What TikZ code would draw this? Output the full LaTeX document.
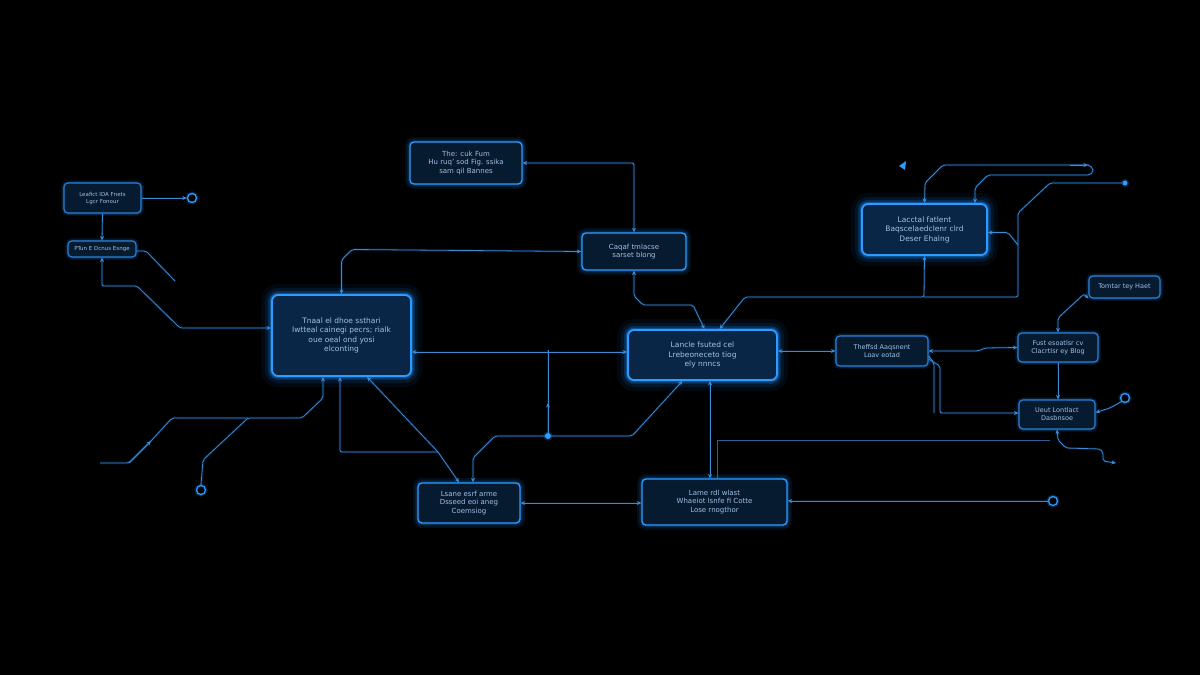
\documentclass[tikz,border=0pt]{standalone}
\usepackage{fontspec}
\setmainfont{DejaVu Sans}
\usetikzlibrary{arrows.meta}
\definecolor{edge}{HTML}{2E9BFF}
\definecolor{edgedim}{HTML}{2A80D4}
\definecolor{boxfill}{HTML}{061A30}
\definecolor{boxfillb}{HTML}{0A2646}
\definecolor{txt}{HTML}{9FC3E6}
\definecolor{wirec}{HTML}{3A8AD4}
\definecolor{glowc}{HTML}{1A8CFF}
\tikzset{
  box/.style={draw=edgedim, line width=1.1pt, fill=boxfill, rounded corners=4pt, text=txt,
    align=center, inner sep=0pt, font=\fontsize{6.5}{8}\selectfont,
    preaction={draw=glowc, line width=6pt, opacity=0.10},
    preaction={draw=glowc, line width=3pt, opacity=0.25}},
  tinybox/.style={box, font=\fontsize{5.5}{7}\selectfont},
  midbox/.style={box, draw=edge, line width=1.3pt, font=\fontsize{7}{8.5}\selectfont,
    preaction={draw=glowc, line width=10pt, opacity=0.10}},
  bigbox/.style={draw=edge, line width=1.8pt, fill=boxfillb, rounded corners=6pt, text=txt,
    align=center, inner sep=0pt, font=\fontsize{7.5}{9.5}\selectfont,
    preaction={draw=glowc, line width=22pt, opacity=0.06},
    preaction={draw=glowc, line width=14pt, opacity=0.10},
    preaction={draw=glowc, line width=8pt, opacity=0.20},
    preaction={draw=glowc, line width=4.5pt, opacity=0.38}},
  wire/.style={draw=wirec, line width=0.8pt, rounded corners=2pt,
    preaction={draw=glowc, line width=2.6pt, opacity=0.15},
    >={Stealth[length=4.5pt,width=4pt]}},
  faint/.style={draw=wirec!70!black, line width=0.7pt},
  ring/.style={circle, draw=edge, line width=1.3pt, minimum size=9pt, inner sep=0pt, fill=black,
    preaction={draw=glowc, line width=4pt, opacity=0.25}},
  bead/.style={circle, fill=edge, minimum size=6pt, inner sep=0pt,
    preaction={draw=glowc, line width=3pt, opacity=0.25}},
}
\begin{document}
\begin{tikzpicture}[x=1pt,y=-1pt]
\fill[black] (0,0) rectangle (1200,675);
\useasboundingbox (0,0) rectangle (1200,675);

% nodes
\node[tinybox, minimum width=77pt, minimum height=30pt] (A) at (102.5,198) {Leafict IDA Fnets\\Lgcr Fonour};
\node[tinybox, minimum width=68pt, minimum height=16pt] (B) at (102,249) {PTun E Dcnus Esnge};
\node[midbox, minimum width=112pt, minimum height=42pt] (C) at (466,163) {The: cuk Fum\\Hu ruq' sod Fig. ssika\\sam qil Bannes};
\node[midbox, minimum width=104pt, minimum height=37pt] (D) at (634,251.5) {Caqaf tmlacse\\sarset blong};
\node[bigbox, minimum width=139pt, minimum height=81pt] (E) at (341.5,335.5) {Tnaal el dhoe ssthari\\Iwtteal cainegi pecrs; rialk\\oue oeal ond yosi\\elconting};
\node[bigbox, minimum width=149pt, minimum height=50pt] (F) at (702.5,355) {Lancle fsuted cel\\Lrebeoneceto tiog\\ely nnncs};
\node[bigbox, minimum width=125pt, minimum height=51pt] (G) at (924.5,229.5) {Lacctal fatlent\\Baqscelaedclenr clrd\\Deser Ehalng};
\node[box, minimum width=92pt, minimum height=30pt] (H) at (882,351) {Theffsd Aaqsnent\\Loav eotad};
\node[box, minimum width=71pt, minimum height=22pt] (I) at (1124.5,287) {Tomtar tey Haet};
\node[box, minimum width=80pt, minimum height=29pt] (J) at (1058,347.5) {Fust esoatlsr cv\\Clacrtlsr ey Blog};
\node[box, minimum width=76pt, minimum height=29pt] (K) at (1057,414.5) {Ueut Lontlact\\Dasbnsoe};
\node[midbox, minimum width=102pt, minimum height=40pt] (L) at (469,503) {Lsane esrf arme\\Dsseed eoi aneg\\Coemsiog};
\node[midbox, minimum width=145pt, minimum height=46pt] (M) at (714.5,502) {Lame rdl wlast\\Whaeiot lsnfe fi Cotte\\Lose rnogthor};

% terminals
\node[ring] (c1) at (192,198) {};
\node[ring] (c2) at (201,490) {};
\node[ring] (c4) at (1125,398) {};
\node[ring] (c5) at (1053,501) {};
\node[bead, minimum size=5pt] (c3) at (1125,183) {};
\node[bead] (dot) at (548,436) {};

\coordinate (fb) at (175,281);
\coordinate (fl) at (100,463);
\coordinate (j1) at (548,350);
\coordinate (fh) at (934,413);
\coordinate (fk) at (1116,463);
\coordinate (fr) at (1050,440);
\coordinate (jg) at (924,297);
\coordinate (jv) at (1018,245);

% connectors, left
\draw[wire,->] (A.east) -- (c1.west);
\draw[wire,->] (A.south) -- (B.north);
\draw[wire,<->] (B.south) -- (102,286) -- (137,286) -- (180,328) -- ([yshift=7.5pt]E.west);
\draw[wire] ([yshift=-2pt]B.east) -- (146,251) -- (fb);
\draw[wire,<->] (C.east) -- (C.east -| D.north) -- (D.north);
\draw[wire,<->] (D.west) -- (352,249.5) -- (341.5,260) -- (E.north);
\draw[wire,<->] (E.east |- 0,352) -- ([yshift=3pt]F.west);
\draw[wire] (j1) -- (dot.north);
\draw[wire,->] (dot.north) -- (548,403);
\draw[wire,->] (dot.east) -- (632,436) -- ([xshift=-20pt]F.south);
\draw[wire,->] (dot.west) -- (495,436) -- (473,458) -- ([xshift=4pt]L.north);
\draw[wire,->] (c2.north) -- (203,460) -- (248,418) -- (302,418) -- (323,398) -- ([xshift=-18.5pt]E.south);
\draw[wire] (fl) -- (129,463) -- (151,441);
\draw[wire,->] (129,463) -- (151,441);
\draw[wire] (151,441) -- (172,418) -- (248,418);
\draw[wire,<-] ([xshift=-1.5pt]E.south) -- (340,452) -- (438,452);
\draw[wire,<->] ([xshift=25.5pt]E.south) -- (438,452) -- ([xshift=-10pt]L.north);

% connectors, centre and right
\draw[wire,<->] (D.south) -- (634,296) -- (643,305) -- (693,305) -- ([xshift=2pt]F.north);
\draw[wire,<->] (G.south) -- (jg) -- (745,297) -- ([xshift=17pt]F.north);
\draw[wire] (jg) -- (1018,297) -- (1018,213) -- (1050,183) -- (c3.west);
\draw[wire,->] (jv) -- (1008,232.5) -- ([yshift=-3pt]G.east);
\draw[wire,<-] (G.north) -- (925,183) -- (943,165) -- (1088,165);
\draw[wire,->] (1070,165) -- (1088,165);
\draw[wire,<-] ([xshift=50.5pt]G.north) -- (975,188) -- (988,175) -- (1090,175) -- (1093,172) -- (1093,168) -- (1088,165);
\fill[edge] (899,166) -- (906,161) -- (905,170) -- cycle;
\draw[wire,<->] (F.east |- H.west) -- (H.west);
\draw[wire,<->] (H.east) -- (978,351) -- (985,348) -- (J.west);
\draw[wire,->] ([yshift=-8pt]H.east) -- (940,366) -- (940,413) -- ([yshift=1.5pt]K.west);
\draw[wire] ([yshift=-5pt]H.east) -- (934,363) -- (fh);
\draw[wire,<->] (J.north) -- (1058,318) -- (1084,294) -- (I.south west);
\draw[wire,->] (J.south) -- (J.south |- K.north);
\draw[wire,->] (c4.south west) -- (1110,408) -- ([yshift=2pt]K.east);
\draw[wire,<->] (K.south) -- (1058,440) -- (1066,448) -- (1100,449) -- (1103,452) -- (1103,461) -- (fk);
\draw[faint] (fr) -- (717,440) -- ([xshift=2.5pt]M.north);
\draw[wire,<->] ([xshift=7.5pt]F.south) -- ([xshift=-4.5pt]M.north);
\draw[wire,->] (c5.west) -- (M.east |- c5);
\draw[wire,<->] (L.east) -- (L.east -| M.west);
\end{tikzpicture}
\end{document}
